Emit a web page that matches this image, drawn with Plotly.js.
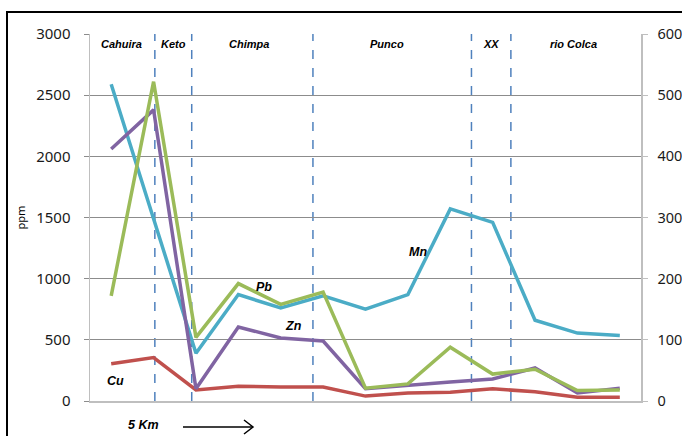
<!DOCTYPE html>
<html>
<head>
<meta charset="utf-8">
<script src="https://cdn.plot.ly/plotly-3.0.1.min.js"></script>
<style>
  html, body { margin: 0; padding: 0; background: #fff; }
  #chart { width: 682px; height: 436px; }
</style>
</head>
<body>
<div id="chart"></div>
<script>
// Sampling stations along the 5 km traverse (13 samples)
const stations = [0, 1, 2, 3, 4, 5, 6, 7, 8, 9, 10, 11, 12];

// Element concentrations, ppm
const mn = [2590, 1500, 390, 870, 760, 860, 750, 870, 1570, 1460, 660, 555, 535];
const pb = [860, 2610, 520, 960, 790, 890, 105, 140, 440, 220, 260, 85, 90];
const zn = [2060, 2380, 100, 605, 515, 490, 100, 130, 155, 180, 270, 65, 105];
const cu = [305, 355, 90, 120, 115, 115, 40, 65, 72, 100, 75, 30, 30];

// Zone boundaries (in station units) and zone names
const zoneBounds = [1.03, 1.9, 4.76, 8.5, 9.43];
const zoneNames = ['Cahuira', 'Keto', 'Chimpa', 'Punco', 'XX', 'rio Colca'];
const zoneCenters = [0.25, 1.46, 3.25, 6.5, 8.95, 10.9];

// Element labels placed near their curves
const elemNames = ['Mn', 'Pb', 'Zn', 'Cu'];
const elemX = [7.25, 3.6, 4.3, 0.1];
const elemY = [1220, 930, 610, 165];

const leftTicks = [0, 500, 1000, 1500, 2000, 2500, 3000];
const rightTicks = [0, 100, 200, 300, 400, 500, 600];

const colors = { mn: '#4bacc6', pb: '#9bbb59', zn: '#8064a2', cu: '#c0504d' };

function line(y, color, name) {
  return {
    type: 'scatter', mode: 'lines', x: stations, y: y, name: name,
    line: { color: color, width: 3.5 }, hoverinfo: 'skip'
  };
}

const traces = [
  line(cu, colors.cu, 'Cu'),
  line(mn, colors.mn, 'Mn'),
  line(zn, colors.zn, 'Zn'),
  line(pb, colors.pb, 'Pb'),
  // invisible trace on the secondary axis so that it gets drawn
  { type: 'scatter', mode: 'lines', x: [null], y: [null], yaxis: 'y2',
    showlegend: false, hoverinfo: 'skip' }
];

// plot area geometry helpers: pixel -> paper coordinates
const L = 90, R = 641, T = 34, B = 401;
const px = v => (v - L) / (R - L);
const py = v => (B - v) / (B - T);

const labelFont = { family: 'Liberation Sans Narrow, Liberation Sans, Arial', size: 11,
                    color: '#000', weight: 'bold', style: 'italic' };

const annotations = [];
zoneNames.forEach((n, i) => annotations.push({
  x: zoneCenters[i], y: 2920, xref: 'x', yref: 'y', text: n,
  xanchor: 'center', yanchor: 'middle',
  showarrow: false, font: labelFont
}));
elemNames.forEach((n, i) => annotations.push({
  x: elemX[i], y: elemY[i], xref: 'x', yref: 'y', text: n,
  xanchor: 'center', yanchor: 'middle',
  showarrow: false, font: Object.assign({}, labelFont, { size: 12.5 })
}));
annotations.push({
  x: px(143), y: py(425), xref: 'paper', yref: 'paper', text: '5 Km',
  xanchor: 'center', yanchor: 'middle',
  showarrow: false, font: Object.assign({}, labelFont, { size: 12.5 })
});

const shapes = [];
zoneBounds.forEach(b => shapes.push({
  type: 'line', xref: 'x', yref: 'paper', x0: b, x1: b, y0: 0, y1: 1,
  line: { color: '#4f81bd', width: 1.5, dash: 'dash' }, layer: 'below'
}));
// outer frame (left and top edges)
shapes.push({ type: 'line', xref: 'paper', yref: 'paper',
  x0: px(7), x1: px(7), y0: py(440), y1: py(12), line: { color: '#000', width: 2 } });
shapes.push({ type: 'line', xref: 'paper', yref: 'paper',
  x0: px(6), x1: px(690), y0: py(12), y1: py(12), line: { color: '#000', width: 2 } });
// direction arrow
shapes.push({ type: 'line', xref: 'paper', yref: 'paper',
  x0: px(183), x1: px(253), y0: py(427), y1: py(427), line: { color: '#000', width: 1.5 } });
shapes.push({ type: 'path', xref: 'paper', yref: 'paper',
  path: `M ${px(244)} ${py(420)} L ${px(253)} ${py(427)} L ${px(244)} ${py(434)}`,
  line: { color: '#000', width: 1.5 } });

const tickFont = { family: 'Noto Sans, Liberation Sans, Arial', size: 15, color: '#1a1a1a' };

const layout = {
  width: 682, height: 436,
  margin: { l: L, r: 682 - R, t: T, b: 436 - B, pad: 0 },
  paper_bgcolor: '#fff', plot_bgcolor: '#fff',
  showlegend: false,
  xaxis: {
    range: [-0.5, 12.5], showticklabels: false, showgrid: false, zeroline: false,
    showline: true, linecolor: '#bfbfbf', linewidth: 1.5, ticks: '', fixedrange: true
  },
  yaxis: {
    range: [0, 3000], tickvals: leftTicks, ticktext: leftTicks.map(String),
    showgrid: true, gridcolor: '#8c8c8c', gridwidth: 1, zeroline: false,
    showline: true, linecolor: '#bfbfbf', linewidth: 1.5,
    ticks: 'outside', ticklen: 5, tickcolor: '#8c8c8c', ticklabelstandoff: 10,
    tickfont: tickFont,
    title: { text: 'ppm', font: { family: 'Noto Sans, Liberation Sans', size: 11, color: '#000' }, standoff: 8 }
  },
  yaxis2: {
    overlaying: 'y', side: 'right', anchor: 'x',
    range: [0, 600], tickvals: rightTicks, ticktext: rightTicks.map(String),
    showgrid: false, zeroline: false,
    showline: true, linecolor: '#bfbfbf', linewidth: 1.5,
    ticks: 'outside', ticklen: 5, tickcolor: '#bfbfbf', ticklabelstandoff: 7,
    tickfont: Object.assign({}, tickFont, { size: 14.5 })
  },
  annotations: annotations,
  shapes: shapes
};

Plotly.newPlot('chart', traces, layout, { staticPlot: true, displayModeBar: false });
</script>
</body>
</html>
